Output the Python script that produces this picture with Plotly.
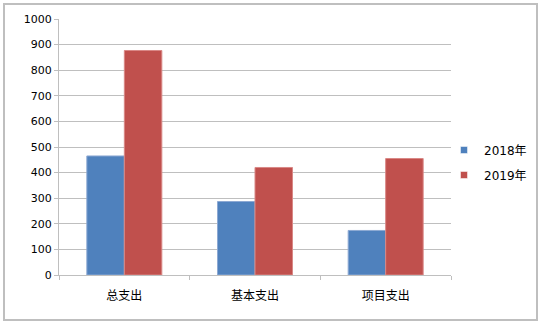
import plotly.graph_objects as go

categories = ["总支出", "基本支出", "项目支出"]
series_names = ["2018年", "2019年"]
values_2018 = [465, 287, 174]
values_2019 = [877, 420, 455]
y_ticks = list(range(0, 1001, 100))

colors = ["#4F81BD", "#C0504D"]
edge = ["#8DA9D3", "#D98886"]

fig = go.Figure()
for name, vals, c, e in zip(series_names, [values_2018, values_2019], colors, edge):
    fig.add_trace(go.Bar(x=categories, y=vals, name=name, showlegend=False,
                         marker=dict(color=c, line=dict(color=e, width=1))))
for name, c in zip(series_names, colors):
    fig.add_trace(go.Scatter(x=[None], y=[None], mode="markers", name=name,
                             legendgroup=name,
                             marker=dict(symbol="square", size=7, color=c,
                                         line=dict(color="white", width=0.5))))

L, R, T, B = 59, 93, 19, 51
W, H = 544, 326
pw, ph = W - L - R, H - T - B

def px(x):
    return (x - L) / pw

def py(y):
    return (H - B - y) / ph

fig.update_layout(
    width=W, height=H,
    margin=dict(l=L, r=R, t=T, b=B, autoexpand=False),
    paper_bgcolor="white", plot_bgcolor="white",
    barmode="group", bargap=0.426, bargroupgap=0,
    font=dict(family="DejaVu Sans, Noto Sans CJK SC", size=11, color="#000000"),
    legend=dict(xref="container", yref="container", x=444 / W, y=1 - 162.5 / H,
                xanchor="left", yanchor="middle", bgcolor="rgba(0,0,0,0)",
                font=dict(family="DejaVu Sans, Noto Sans CJK SC", size=12),
                itemwidth=30, tracegroupgap=6, traceorder="grouped"),
    xaxis=dict(showline=True, linecolor="#BFBFBF", linewidth=1,
               ticks="outside", tickson="boundaries", ticklen=4, tickcolor="#BFBFBF",
               showgrid=False, ticklabelstandoff=10,
               tickfont=dict(family="Noto Sans CJK SC", size=12)),
    yaxis=dict(range=[0, 1000], tickvals=y_ticks, showline=True, linecolor="#BFBFBF",
               linewidth=1, ticks="outside", ticklen=4, tickcolor="#BFBFBF",
               showgrid=True, gridcolor="#BFBFBF", gridwidth=1, zeroline=False,
               tickfont=dict(size=11)),
    shapes=[dict(type="rect", xref="paper", yref="paper",
                 x0=px(4), x1=px(537), y0=py(320), y1=py(4),
                 line=dict(color="#BFBFBF", width=2), layer="below")],
)

fig.write_html("out.html")
